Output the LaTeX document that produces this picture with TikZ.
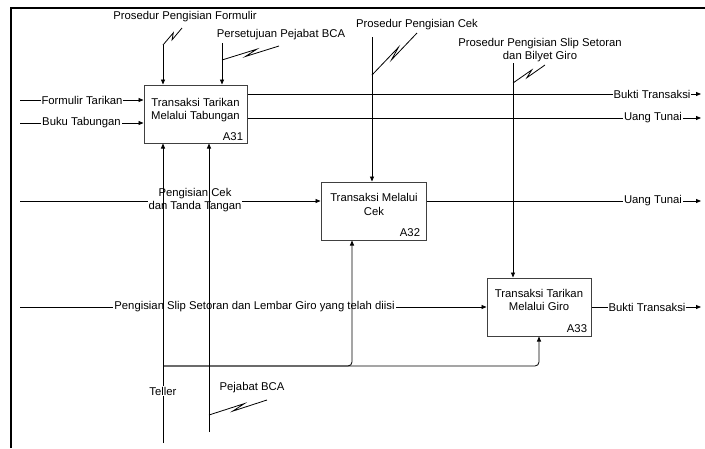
\documentclass[tikz,border=0pt]{standalone}
\usepackage{fontspec}
\setmainfont{Liberation Sans}
\usetikzlibrary{arrows.meta,calc}
\newcommand\squig[2]{\draw[ln] (#1) -- ($(#1)!0.62!(#2)!2.2pt!90:(#2)$) -- ($(#1)!0.4!(#2)!2.2pt!-90:(#2)$) -- (#2);}
\begin{document}
\begin{tikzpicture}[x=1pt,y=-1pt,
  every node/.style={font=\fontsize{11.3}{13.5}\selectfont},
  procbox/.style={draw=black!75, line width=1pt, minimum height=58pt, inner sep=0},
  arr/.style={line width=0.8pt, -{Triangle[length=5pt,width=4pt]}},
  ln/.style={line width=0.8pt},
  lbl/.style={fill=white, inner sep=1pt, align=center},
  txt/.style={inner sep=0, align=center},
]
\useasboundingbox (0,0) rectangle (705,448);
\draw[line width=2pt] (11,448) -- (11,7.7) -- (705,7.7);

% boxes
\node[procbox, minimum width=103pt] (A31) at (195.5,114) {};
\node[procbox, minimum width=105pt] (A32) at (373.5,211) {};
\node[procbox, minimum width=104pt] (A33) at (539,307) {};
\node[txt] (A31t) at (195.5,110) {Transaksi Tarikan\\Melalui Tabungan};
\node[txt] (A32t) at (374,204.5) {Transaksi Melalui\\Cek};
\node[txt] (A33t) at (539,300) {Transaksi Tarikan\\Melalui Giro};
\node[txt] (A31n) at (233,137) {A31};
\node[txt] (A32n) at (410,233) {A32};
\node[txt] (A33n) at (577,329) {A33};

% coordinates
\coordinate (i1) at (20,100);
\coordinate (i2) at (20,123);
\coordinate (i3) at (20,201);
\coordinate (i4) at (20,307);
\coordinate (o1) at (701,94);
\coordinate (o2) at (701,118);
\coordinate (o3) at (701,201);
\coordinate (o4) at (701,307);
\coordinate (c1) at (163,45);
\coordinate (c2) at (222,43);
\coordinate (c3) at (372,37);
\coordinate (c4) at (513,63);
\coordinate (m1) at (163,443);
\coordinate (m2) at (209,432);
\coordinate (j) at (163,366);

% inputs
\draw[arr] (i1) -- (i1 -| A31.west);
\draw[arr] (i2) -- (i2 -| A31.west);
\draw[arr] (i3) -- (i3 -| A32.west);
\draw[arr] (i4) -- (i4 -| A33.west);
\node[lbl] (li1) at (82,100) {Formulir Tarikan};
\node[lbl] (li2) at (81.5,123) {Buku Tabungan};
\node[lbl] (li3) at (195,200) {Pengisian Cek\\dan Tanda Tangan};
\node[lbl] (li4) at (254.5,307) {Pengisian Slip Setoran dan Lembar Giro yang telah diisi};

% outputs
\draw[arr] (o1 -| A31.east) -- (o1);
\draw[arr] (o2 -| A31.east) -- (o2);
\draw[arr] (o3 -| A32.east) -- (o3);
\draw[arr] (o4 -| A33.east) -- (o4);
\node[lbl] (lo1) at (652,94) {Bukti Transaksi};
\node[lbl] (lo2) at (653,118) {Uang Tunai};
\node[lbl] (lo3) at (653,201) {Uang Tunai};
\node[lbl] (lo4) at (647,307) {Bukti Transaksi};

% controls
\draw[arr] (c1) -- (c1 |- A31.north);
\draw[arr] (c2) -- (c2 |- A31.north);
\draw[arr] (c3) -- (c3 |- A32.north);
\draw[arr] (c4) -- (c4 |- A33.north);

% mechanisms
\draw[arr] (m1) -- (m1 |- A31.south);
\draw[arr] (m2) -- (m2 |- A31.south);
\draw[arr, rounded corners=4pt] (j) -| ([xshift=-21.5pt]A32.south);
\draw[arr, rounded corners=4pt] (j) -| (A33.south);

% squiggles and tunnel labels
\coordinate (s1a) at (163,45);  \coordinate (s1b) at (182,28);
\coordinate (s2a) at (222,60);  \coordinate (s2b) at (279,46);
\coordinate (s3a) at (372,75);  \coordinate (s3b) at (417,33);
\coordinate (s4a) at (513,83);  \coordinate (s4b) at (545,65);
\coordinate (s5a) at (209,415); \coordinate (s5b) at (267,400);
\squig{s1a}{s1b}
\squig{s2a}{s2b}
\squig{s3a}{s3b}
\squig{s4a}{s4b}
\squig{s5a}{s5b}
\node[txt] (lc1) at (185,17) {Prosedur Pengisian Formulir};
\node[txt] (lc2) at (281,35) {Persetujuan Pejabat BCA};
\node[txt] (lc3) at (417,25) {Prosedur Pengisian Cek};
\node[txt] (lc4) at (540,50) {Prosedur Pengisian Slip Setoran\\dan Bilyet Giro};
\node[lbl] (lm1) at (163,391) {Teller};
\node[txt] (lm2) at (252,388) {Pejabat BCA};
\end{tikzpicture}
\end{document}
